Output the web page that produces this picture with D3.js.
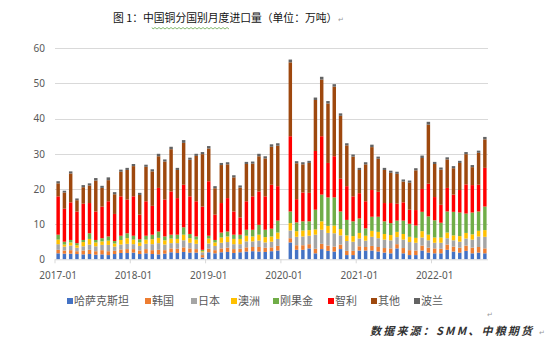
<!DOCTYPE html>
<html><head><meta charset="utf-8">
<script src="https://cdn.jsdelivr.net/npm/d3@7/dist/d3.min.js"></script>
<style>
body{margin:0;background:#fff;}
svg{display:block;font-family:"Noto Sans CJK SC","Noto Sans",sans-serif;}
</style>
</head><body>
<svg id="chart" width="545" height="348"></svg>
<script>
const months = [
"2017-01","2017-02","2017-03","2017-04","2017-05","2017-06","2017-07","2017-08","2017-09","2017-10","2017-11","2017-12",
"2018-01","2018-02","2018-03","2018-04","2018-05","2018-06","2018-07","2018-08","2018-09","2018-10","2018-11","2018-12",
"2019-01","2019-02","2019-03","2019-04","2019-05","2019-06","2019-07","2019-08","2019-09","2019-10","2019-11","2019-12",
"2020-01","2020-02","2020-03","2020-04","2020-05","2020-06","2020-07","2020-08","2020-09","2020-10","2020-11","2020-12",
"2021-01","2021-02","2021-03","2021-04","2021-05","2021-06","2021-07","2021-08","2021-09","2021-10","2021-11","2021-12",
"2022-01","2022-02","2022-03","2022-04","2022-05","2022-06","2022-07","2022-08","2022-09"];

const tickLabels = ["2017-01","2018-01","2019-01","2020-01","2021-01","2022-01"];
const yTicks = [0,10,20,30,40,50,60];

const seriesNames = ["哈萨克斯坦","韩国","日本","澳洲","刚果金","智利","其他","波兰"];
const seriesColors = ["#4472C4","#ED7D31","#A5A5A5","#FFC000","#70AD47","#FF0000","#9E480E","#636363"];

const kazakhstan = [
1.7,1.6,1.6,1.5,1.4,1.5,1.3,1.4,1.2,1.5,1.8,1.8,
1.9,1.5,1.7,1.5,1.4,1.6,2.0,1.8,2.1,1.9,1.9,0.5,
2.0,1.7,2.0,2.1,1.8,2.0,2.2,2.3,2.2,2.1,2.3,2.5,
0,4.8,2.7,2.7,3.1,1.7,2.9,2.4,2.2,2.9,1.2,1.2,
2.5,2.5,2.5,2.2,1.9,1.7,3.1,1.7,1.2,1.2,2.5,1.9,
1.7,1.7,2.7,2.2,1.9,2.4,1.7,1.9,1.7];
const korea = [
1.0,0.9,1.0,0.8,1.1,1.2,1.0,1.2,1.1,0.9,1.0,1.1,
1.0,1.0,1.2,1.1,1.3,1.0,1.1,1.2,1.3,1.2,1.0,0.7,
1.0,0.9,1.1,1.2,1.1,1.0,1.2,1.2,1.3,1.2,1.1,1.3,
0,1.2,1.3,1.3,1.2,1.3,1.5,1.5,1.4,1.3,1.2,1.2,
1.2,1.0,1.3,1.3,1.3,1.4,1.2,1.5,1.4,1.3,1.4,1.4,
1.4,1.3,1.5,1.4,1.4,1.5,1.6,1.6,1.4];
const japan = [
1.6,1.1,1.3,1.0,1.2,1.5,1.4,1.5,1.8,1.2,1.4,1.5,
1.4,1.3,1.5,1.7,1.9,1.6,1.5,1.6,2.0,1.6,1.5,0.8,
1.5,1.2,1.6,1.6,1.4,1.3,1.7,1.6,1.8,1.5,1.6,2.0,
0,2.2,2.4,2.5,2.4,4.0,4.0,3.6,3.8,2.6,2.8,2.6,
2.2,1.8,2.6,2.5,2.4,2.3,2.0,2.4,2.3,2.2,2.3,2.1,
1.6,1.7,1.8,1.8,1.7,2.0,2.3,3.0,3.3];
const australia = [
1.3,0.6,0.9,0.7,1.2,1.6,1.1,1.0,1.2,0.9,1.3,1.6,
1.3,1.0,1.2,1.4,1.5,1.2,1.3,1.2,1.6,1.3,1.2,0.3,
1.4,1.0,1.5,1.6,1.5,1.5,1.6,1.4,1.7,1.5,1.5,1.8,
0,2.1,1.6,1.7,1.6,1.5,2.4,2.0,2.2,1.8,1.6,1.6,
1.6,1.4,1.7,1.8,1.6,1.5,1.5,1.6,1.5,1.4,1.8,1.6,
1.5,1.5,1.6,1.4,1.6,1.6,1.5,1.6,1.9];
const drCongo = [
1.4,0.8,0.7,0.6,0.6,1.6,0.7,0.9,1.2,0.7,1.2,1.4,
1.1,0.9,1.1,1.3,1.8,1.1,1.1,1.2,2.1,1.2,0.9,0.4,
0.8,0.7,1.4,1.4,1.2,1.2,1.7,1.9,2.8,2.1,2.2,3.4,
0,3.3,2.5,2.6,2.5,5.6,7.6,8.1,8.0,5.0,4.4,4.2,
4.1,2.1,4.0,4.3,3.6,3.4,3.2,3.8,3.7,3.5,5.5,5.2,
4.9,4.2,6.0,6.7,6.7,5.5,6.2,5.5,6.7];
const chile = [
10.9,9.4,10.7,9.0,10.3,8.6,8.1,9.0,10.0,7.7,11.2,9.6,
11.2,7.0,9.8,8.2,12.4,10.5,12.3,10.4,12.1,10.7,10.0,12.3,
15.5,7.2,8.4,9.5,6.6,4.9,8.1,9.5,9.5,9.5,12.5,9.8,
0,21.4,6.6,8.2,8.1,16.7,16.6,9.8,11.7,9.3,9.6,7.1,
7.2,7.7,7.6,7.1,5.2,5.7,4.8,5.2,4.0,4.4,6.5,9.3,
6.6,5.1,6.7,4.9,6.4,8.3,7.8,7.6,11.0];
const others = [
3.7,4.6,8.2,3.2,4.7,5.0,8.8,5.3,6.0,5.6,7.0,8.4,
8.6,5.6,9.8,9.8,9.0,10.8,12.0,8.0,11.9,10.4,12.9,14.9,
9.3,7.5,10.8,9.6,9.7,8.5,10.6,9.3,10.0,10.8,10.8,11.5,
0,21.0,10.2,8.0,8.5,14.5,16.1,16.9,19.8,17.9,11.6,11.3,
6.6,10.5,12.2,9.4,9.4,8.6,8.5,5.9,7.7,11.3,8.8,16.8,
9.4,10.0,8.1,7.5,7.7,8.6,5.1,9.1,8.1];
const poland = [
0.6,0.5,0.6,0.5,0.6,0.6,0.7,0.6,0.8,0.6,0.6,0.6,
0.6,0.6,0.6,0.6,0.7,0.6,0.7,0.6,0.8,0.6,0.6,0.6,
0.7,0.6,0.6,0.6,0.6,0.6,0.6,0.6,0.7,0.6,0.7,0.7,
0,0.8,0.6,0.6,0.6,0.7,0.8,0.7,0.7,0.7,0.6,0.6,
0.6,0.6,0.7,0.6,0.6,0.6,0.6,0.6,0.6,0.6,0.7,0.8,
0.6,0.6,0.6,0.6,0.6,0.6,0.6,0.6,0.7];

const seriesValues = [kazakhstan, korea, japan, australia, drCongo, chile, others, poland];

const rows = months.map((m, i) => {
  const r = {month: m};
  seriesNames.forEach((s, k) => r[s] = seriesValues[k][i]);
  return r;
});

const svg = d3.select("#chart");
const plotLeft = 55, plotRight = 488, plotTop = 48.3, plotBottom = 259.3;

const x = d3.scaleBand().domain(months).range([plotLeft, plotRight]).paddingInner(0.45).paddingOuter(0.225);
const y = d3.scaleLinear().domain([0, 60]).range([plotBottom, plotTop]);

// title
svg.append("text")
  .attr("x", 113).attr("y", 22)
  .attr("font-size", 10.8).attr("fill", "#111")
  .text("图 1：中国铜分国别月度进口量（单位：万吨）");
svg.append("text").attr("x", 338).attr("y", 22).attr("font-size", 7).attr("fill", "#999").text("↵");
// spell-check style wavy underline
(function(){
  let p = "M152,27.5";
  for (let xx = 152; xx < 229; xx += 2) p += ` L${xx+1},${(xx/2)%2===0?29:27.5}`;
  svg.append("path").attr("d", p).attr("fill","none").attr("stroke","#6aa84f").attr("stroke-width",0.8);
})();

// gridlines
svg.append("g").selectAll("line").data(yTicks.filter(d => d > 0)).join("line")
  .attr("x1", plotLeft).attr("x2", plotRight)
  .attr("y1", d => Math.round(y(d)) + 0.5).attr("y2", d => Math.round(y(d)) + 0.5)
  .attr("stroke", "#d9d9d9").attr("stroke-width", 1);

// y axis labels
const yAxis = d3.axisLeft(y).tickValues(yTicks).tickSize(0).tickPadding(10);
const yg = svg.append("g").attr("transform", `translate(${plotLeft},0)`).call(yAxis);
yg.select(".domain").remove();
yg.selectAll("text").attr("font-size", 10).attr("fill", "#595959")
  .attr("font-family", '"Noto Sans","DejaVu Sans",sans-serif');

// bars
const stacked = d3.stack().keys(seriesNames)(rows);
svg.append("g").selectAll("g").data(stacked).join("g")
  .attr("fill", (d, k) => seriesColors[k])
  .selectAll("rect").data(d => d).join("rect")
  .attr("x", d => x(d.data.month))
  .attr("width", x.bandwidth())
  .attr("y", d => y(d[1]))
  .attr("height", d => Math.max(0, y(d[0]) - y(d[1])));

// x axis
svg.append("line").attr("x1", plotLeft).attr("x2", plotRight)
  .attr("y1", plotBottom + 0.5).attr("y2", plotBottom + 0.5).attr("stroke", "#d9d9d9");
const step = x.step();
const boundaries = tickLabels.map(m => x(m) - (step - x.bandwidth()) / 2);
svg.append("g").selectAll("line").data(boundaries).join("line")
  .attr("x1", d => d).attr("x2", d => d)
  .attr("y1", plotBottom).attr("y2", plotBottom + 4).attr("stroke", "#d9d9d9");
svg.append("g").selectAll("text").data(tickLabels).join("text")
  .attr("x", d => x(d) + x.bandwidth() / 2)
  .attr("y", 279)
  .attr("text-anchor", "middle")
  .attr("font-size", 10).attr("fill", "#595959")
  .attr("font-family", '"Noto Sans","DejaVu Sans",sans-serif')
  .text(d => d);

// legend
const legendX = [67, 145, 191, 231, 273, 328, 371, 414];
const lg = svg.append("g").selectAll("g").data(seriesNames).join("g")
  .attr("transform", (d, k) => `translate(${legendX[k]},301)`);
lg.append("rect").attr("x", 0).attr("y", -3).attr("width", 6).attr("height", 6)
  .attr("fill", (d, k) => seriesColors[k]);
lg.append("text").attr("x", 7).attr("y", 4).attr("font-size", 11).attr("fill", "#595959").text(d => d);

// source
svg.append("text").attr("x", 487).attr("y", 317).attr("font-size", 7).attr("fill", "#999").text("↵");
svg.append("text").attr("x", 370).attr("y", 335)
  .attr("font-size", 11).attr("font-style", "italic").attr("font-weight", "bold")
  .attr("letter-spacing", 2.2).attr("fill", "#333")
  .text("数据来源：SMM、中粮期货");
svg.append("text").attr("x", 539).attr("y", 335).attr("font-size", 7).attr("fill", "#999").text("↵");
</script>
</body></html>
